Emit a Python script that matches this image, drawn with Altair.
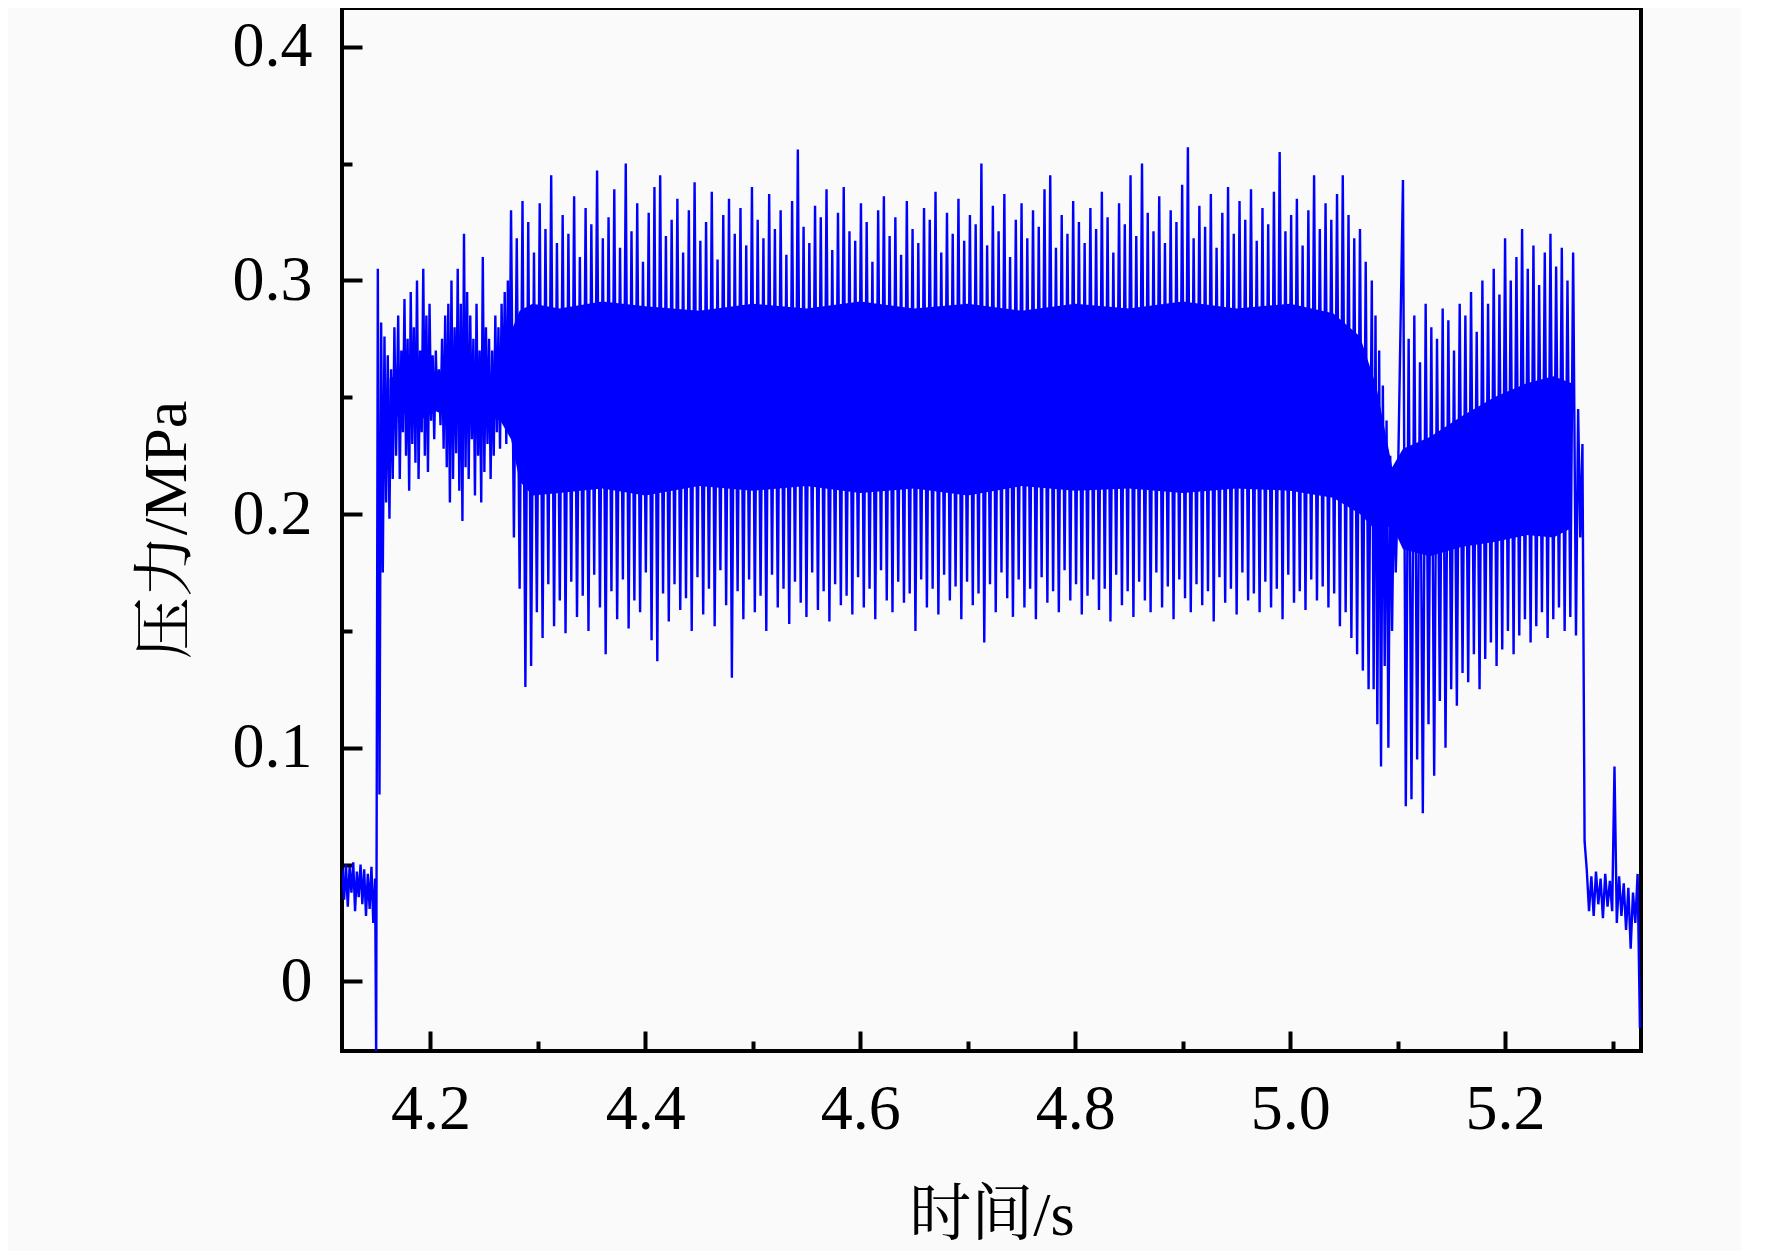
import altair as alt
import numpy as np
import pandas as pd

# ---------------- data (pressure in MPa) ----------------
# segment 1: idle level before ignition, 4.118 - 4.1485 s
seg1_t = (4.118, 4.1485)
seg1_v = [0.048, 0.035, 0.050, 0.032, 0.049, 0.038, 0.051, 0.030, 0.047, 0.036,
          0.050, 0.033, 0.048, 0.028, 0.046, 0.031, 0.049, 0.025, 0.044]

# segment 2: opening transient, 4.1495 - 4.168 s
seg2_t = (4.1495, 4.168)
seg2_v = [-0.032, 0.305, 0.080, 0.282, 0.175, 0.276, 0.205, 0.268, 0.198, 0.262,
          0.215, 0.280, 0.225]

# segment 3: moderate oscillation, 4.170 - 4.2735 s (peak / trough pairs)
seg3_t = (4.170, 4.2735)
seg3_peaks = [0.285, 0.270, 0.292, 0.275, 0.295, 0.280, 0.300, 0.270, 0.305, 0.285,
              0.290, 0.268, 0.270, 0.262, 0.275, 0.285, 0.290, 0.300, 0.280, 0.305,
              0.290, 0.320, 0.295, 0.285, 0.275, 0.290, 0.270, 0.310, 0.280, 0.275,
              0.270, 0.285, 0.280, 0.290, 0.295, 0.300]
seg3_troughs = [0.215, 0.235, 0.225, 0.210, 0.230, 0.222, 0.215, 0.235, 0.225, 0.218,
                0.240, 0.232, 0.245, 0.238, 0.228, 0.220, 0.205, 0.215, 0.226, 0.210,
                0.197, 0.220, 0.215, 0.232, 0.208, 0.225, 0.205, 0.218, 0.230, 0.215,
                0.225, 0.235, 0.228, 0.240, 0.230, 0.245]

# segment 4: main strong oscillation, 4.275 - 5.073 s
seg4_t = (4.275, 5.073)
seg4_peaks = [
    0.330, 0.318, 0.334, 0.325, 0.312, 0.333, 0.322, 0.345, 0.316, 0.328,
    0.320, 0.336, 0.310, 0.331, 0.324, 0.347, 0.318, 0.327, 0.339, 0.314,
    0.350, 0.321, 0.333, 0.308, 0.329, 0.340, 0.345, 0.319, 0.326, 0.335,
    0.312, 0.330, 0.342, 0.317, 0.325, 0.338, 0.309, 0.328, 0.335, 0.320,
    0.331, 0.315, 0.340, 0.326, 0.318, 0.337, 0.322, 0.330, 0.311, 0.334,
    0.356, 0.323, 0.316, 0.332, 0.327, 0.339, 0.313, 0.329, 0.340, 0.321,
    0.317, 0.333, 0.325, 0.308, 0.330, 0.336, 0.319, 0.327, 0.311, 0.334,
    0.322, 0.316, 0.331, 0.326, 0.338, 0.312, 0.329, 0.320, 0.335, 0.317,
    0.328, 0.324, 0.350, 0.315, 0.332, 0.321, 0.337, 0.310, 0.326, 0.333,
    0.318, 0.330, 0.323, 0.339, 0.345, 0.314, 0.328, 0.320, 0.334, 0.325,
    0.316, 0.331, 0.322, 0.338, 0.327, 0.312, 0.333, 0.324, 0.345, 0.319,
    0.350, 0.329, 0.321, 0.336, 0.316, 0.330, 0.325, 0.341, 0.357, 0.318,
    0.332, 0.323, 0.337, 0.314, 0.329, 0.340, 0.320, 0.334, 0.326, 0.339,
    0.317, 0.331, 0.324, 0.338, 0.355, 0.321, 0.328, 0.335, 0.315, 0.330,
    0.345, 0.322, 0.333, 0.326, 0.337, 0.345, 0.328, 0.318, 0.322, 0.308]
seg4_troughs = [
    0.190, 0.168, 0.126, 0.135, 0.158, 0.147, 0.170, 0.152, 0.163, 0.149,
    0.171, 0.156, 0.165, 0.150, 0.174, 0.160, 0.140, 0.167, 0.155, 0.172,
    0.151, 0.163, 0.158, 0.175, 0.146, 0.137, 0.166, 0.154, 0.170, 0.159,
    0.164, 0.150, 0.173, 0.157, 0.168, 0.152, 0.176, 0.161, 0.130, 0.167,
    0.155, 0.172, 0.158, 0.165, 0.150, 0.174, 0.160, 0.168, 0.153, 0.171,
    0.162, 0.156, 0.175, 0.159, 0.167, 0.154, 0.170, 0.161, 0.165, 0.157,
    0.173, 0.160, 0.168, 0.155, 0.176, 0.163, 0.158, 0.171, 0.162, 0.166,
    0.150, 0.172, 0.160, 0.168, 0.157, 0.174, 0.163, 0.169, 0.155, 0.171,
    0.161, 0.166, 0.145, 0.170, 0.158, 0.175, 0.164, 0.156, 0.172, 0.160,
    0.168, 0.155, 0.173, 0.162, 0.167, 0.158, 0.176, 0.163, 0.170, 0.157,
    0.165, 0.172, 0.159, 0.168, 0.154, 0.174, 0.161, 0.167, 0.156, 0.171,
    0.163, 0.158, 0.175, 0.160, 0.169, 0.155, 0.172, 0.164, 0.158, 0.170,
    0.161, 0.167, 0.154, 0.173, 0.162, 0.168, 0.157, 0.175, 0.163, 0.166,
    0.158, 0.171, 0.160, 0.168, 0.155, 0.174, 0.162, 0.167, 0.159, 0.172,
    0.163, 0.169, 0.160, 0.166, 0.152, 0.158, 0.147, 0.140, 0.133, 0.125]

# segment 5: collapse before the second stage, 5.076 - 5.100 s
seg5_t = (5.076, 5.100)
seg5_v = [0.300, 0.125, 0.285, 0.110, 0.270, 0.092, 0.255, 0.135, 0.240, 0.100,
          0.225, 0.150, 0.215, 0.175, 0.205]

# segment 6: second stage, 5.105 - 5.266 s
seg6_t = (5.105, 5.266)
seg6_peaks = [0.343, 0.275, 0.285, 0.265, 0.290, 0.280, 0.275, 0.288, 0.283, 0.270,
              0.290, 0.285, 0.295, 0.278, 0.300, 0.290, 0.305, 0.294, 0.318, 0.300,
              0.310, 0.322, 0.305, 0.315, 0.298, 0.312, 0.320, 0.306, 0.314, 0.300,
              0.312]
seg6_troughs = [0.075, 0.078, 0.095, 0.072, 0.110, 0.088, 0.120, 0.100, 0.125, 0.118,
                0.132, 0.128, 0.140, 0.125, 0.138, 0.145, 0.135, 0.142, 0.150, 0.140,
                0.148, 0.155, 0.145, 0.152, 0.158, 0.147, 0.155, 0.160, 0.150, 0.156,
                0.148]

# segment 7: shut-down drop, 5.268 - 5.274 s
seg7_t = (5.268, 5.274)
seg7_v = [0.245, 0.190, 0.230, 0.060]

# segment 8: idle level after shut-down, 5.276 - 5.3255 s
seg8_t = (5.276, 5.3255)
seg8_v = [0.048, 0.030, 0.045, 0.028, 0.047, 0.033, 0.044, 0.027, 0.046, 0.032,
          0.043, 0.030, 0.092, 0.025, 0.045, 0.028, 0.042, 0.022, 0.040, 0.014,
          0.038, 0.025, 0.046, -0.020]

# solid (fully overlapped) core of the oscillation band
core_t = [4.162, 4.175, 4.190, 4.205, 4.220, 4.235, 4.250, 4.265, 4.275, 4.283,
          4.295, 4.320, 4.360, 4.400, 4.450, 4.500, 4.550, 4.600, 4.650, 4.700,
          4.750, 4.800, 4.850, 4.900, 4.950, 5.000, 5.040, 5.065, 5.080, 5.095,
          5.105, 5.130, 5.160, 5.190, 5.220, 5.245, 5.262]
core_lo = [0.240, 0.243, 0.240, 0.244, 0.241, 0.238, 0.242, 0.240, 0.232, 0.214,
           0.208, 0.209, 0.211, 0.208, 0.212, 0.210, 0.212, 0.209, 0.211, 0.208,
           0.212, 0.210, 0.211, 0.209, 0.211, 0.210, 0.207, 0.200, 0.193, 0.195,
           0.185, 0.182, 0.186, 0.188, 0.191, 0.190, 0.194]
core_hi = [0.258, 0.261, 0.258, 0.255, 0.260, 0.264, 0.258, 0.263, 0.278, 0.287,
           0.290, 0.288, 0.291, 0.289, 0.287, 0.290, 0.288, 0.291, 0.288, 0.290,
           0.287, 0.290, 0.288, 0.291, 0.288, 0.290, 0.286, 0.276, 0.255, 0.220,
           0.228, 0.233, 0.242, 0.250, 0.256, 0.259, 0.256]

x_major = [4.2, 4.4, 4.6, 4.8, 5.0, 5.2]
x_minor = [4.3, 4.5, 4.7, 4.9, 5.1, 5.3]
y_major = [0.0, 0.1, 0.2, 0.3, 0.4]
y_minor = [0.05, 0.15, 0.25, 0.35]


def pairs(p, q):
    return [v for pq in zip(p, q) for v in pq]


segments = [
    (seg1_t, seg1_v),
    (seg2_t, seg2_v),
    (seg3_t, pairs(seg3_peaks, seg3_troughs)),
    (seg4_t, pairs(seg4_peaks, seg4_troughs)),
    (seg5_t, seg5_v),
    (seg6_t, pairs(seg6_peaks, seg6_troughs)),
    (seg7_t, seg7_v),
    (seg8_t, seg8_v),
]
ts, vs = [], []
for (t0, t1), vals in segments:
    ts.extend(np.linspace(t0, t1, len(vals)).tolist())
    vs.extend(vals)
sig = pd.DataFrame({"t": ts, "p": vs, "i": range(len(ts))})
core = pd.DataFrame({"t": core_t, "lo": core_lo, "hi": core_hi})

# ---------------- chart ----------------
SERIF = "Liberation Serif"
TITLE_FONT = "Liberation Serif, Noto Serif CJK SC, Noto Sans CJK SC"
BLUE = "#0000ff"

xs = alt.Scale(domain=[4.1177, 5.3265], nice=False, zero=False)
ys = alt.Scale(domain=[-0.0298, 0.4166], nice=False, zero=False)

label_x_axis = alt.Axis(orient="bottom", values=x_major, format=".1f",
                        labelFont=SERIF, labelFontSize=64, labelColor="black",
                        labelPadding=26, ticks=False, domain=False, grid=False,
                        titleFont=TITLE_FONT, titleFontSize=62, titleFontWeight="normal",
                        titleColor="black", titlePadding=44)
label_y_axis = alt.Axis(orient="left", values=y_major,
                        labelExpr="datum.value == 0 ? '0' : format(datum.value, '.1f')",
                        labelFont=SERIF, labelFontSize=64, labelColor="black",
                        labelPadding=30, ticks=False, domain=False, grid=False,
                        titleFont=TITLE_FONT, titleFontSize=62, titleFontWeight="normal",
                        titleColor="black", titlePadding=34)


def tick_axis(orient, values, size):
    return alt.Axis(orient=orient, values=values, labels=False, domain=False,
                    grid=False, ticks=True, tickSize=size, tickWidth=4,
                    tickColor="black", offset=-size)


band = alt.Chart(core).mark_area(color=BLUE, opacity=1).encode(
    x=alt.X("t:Q", scale=xs, axis=label_x_axis, title="时间/s"),
    y=alt.Y("lo:Q", scale=ys, axis=label_y_axis, title="压力/MPa"),
    y2="hi:Q",
)

line = alt.Chart(sig).mark_line(color=BLUE, strokeWidth=2.4, clip=True).encode(
    x=alt.X("t:Q", scale=xs, axis=tick_axis("bottom", x_major, 20), title=None),
    y=alt.Y("p:Q", scale=ys, axis=tick_axis("left", y_major, 20), title=None),
    order="i:Q",
)

minor = alt.Chart(sig).mark_point(opacity=0).encode(
    x=alt.X("t:Q", scale=xs, axis=tick_axis("bottom", x_minor, 10), title=None),
    y=alt.Y("p:Q", scale=ys, axis=tick_axis("left", y_minor, 10), title=None),
)

chart = alt.layer(band, line, minor).resolve_axis(
    x="independent", y="independent"
).properties(
    width=1299,
    height=1043,
    autosize=alt.AutoSizeParams(type="none"),
    padding={"left": 334, "top": 0, "right": 100, "bottom": 200},
    background="#fafafa",
).configure_view(stroke="black", strokeWidth=4)

chart.save("out.html", embed_options={"renderer": "svg", "actions": False})
